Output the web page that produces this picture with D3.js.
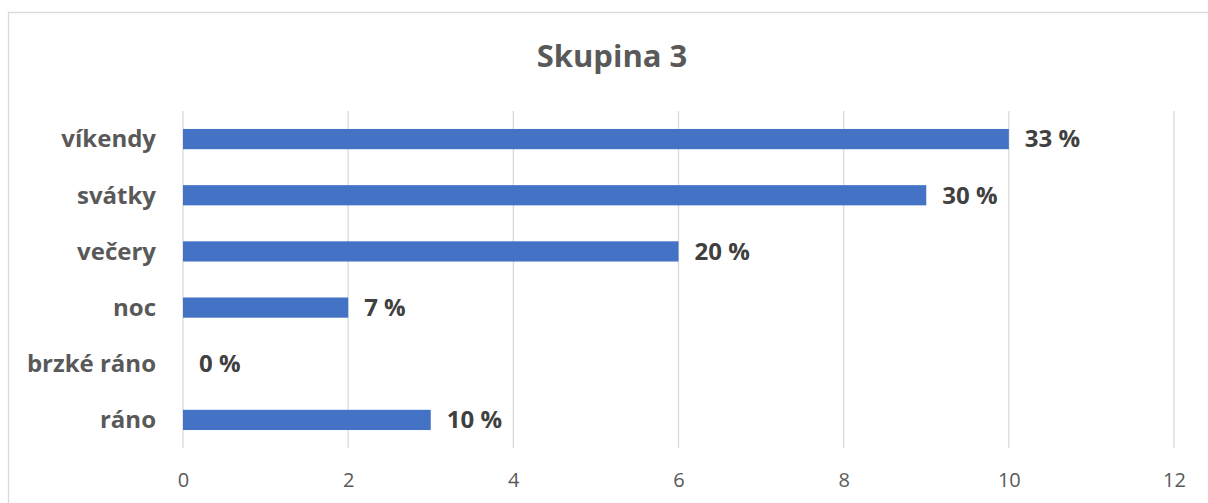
<!DOCTYPE html>
<html>
<head>
<meta charset="utf-8">
<script src="https://cdn.jsdelivr.net/npm/d3@7"></script>
<style>
  html, body { margin: 0; padding: 0; background: #fff; }
  svg { display: block; }
</style>
</head>
<body>
<svg id="chart" width="1208" height="503"></svg>
<script>
const title = "Skupina 3";
const categories = ["víkendy", "svátky", "večery", "noc", "brzké ráno", "ráno"];
const values = [10, 9, 6, 2, 0, 3];
const labels = ["33 %", "30 %", "20 %", "7 %", "0 %", "10 %"];
const xTicks = [0, 2, 4, 6, 8, 10, 12];

const W = 1208, H = 503;
const margin = { left: 183, right: 34, top: 111, bottom: 55 };
const svg = d3.select("#chart");
const font = "'Open Sans', 'Noto Sans', sans-serif";

// chart border
svg.append("rect")
  .attr("x", 8.5).attr("y", 12.5)
  .attr("width", W + 10).attr("height", H + 10)
  .attr("fill", "#fff").attr("stroke", "#d9d9d9").attr("stroke-width", 1.3);

const x = d3.scaleLinear().domain([0, 12]).range([margin.left, W - margin.right]);
const y = d3.scaleBand().domain(categories).range([margin.top, H - margin.bottom]).paddingInner(0.64).paddingOuter(0.32);

// gridlines
svg.append("g")
  .selectAll("line").data(xTicks).join("line")
  .attr("x1", d => x(d)).attr("x2", d => x(d))
  .attr("y1", margin.top).attr("y2", H - margin.bottom)
  .attr("stroke", "#d9d9d9").attr("stroke-width", 1.3);

// x axis labels
const xAxis = d3.axisBottom(x).tickValues(xTicks).tickSize(0).tickPadding(0);
const gx = svg.append("g").attr("transform", `translate(0,${H - margin.bottom})`).call(xAxis);
gx.select(".domain").remove();
gx.selectAll("text")
  .attr("dy", null).attr("y", 39)
  .attr("font-family", font).attr("font-size", 20)
  .attr("fill", "#595959");

// y axis labels
const yAxis = d3.axisLeft(y).tickSize(0).tickPadding(27);
const gy = svg.append("g").attr("transform", `translate(${margin.left},0)`).call(yAxis);
gy.select(".domain").remove();
gy.selectAll("text")
  .attr("font-family", font).attr("font-size", 24).attr("font-weight", "bold")
  .attr("fill", "#595959").attr("dy", "0.35em");

// bars
svg.append("g").selectAll("rect")
  .data(categories).join("rect")
  .attr("x", x(0))
  .attr("y", d => y(d))
  .attr("width", (d, i) => x(values[i]) - x(0))
  .attr("height", y.bandwidth())
  .attr("fill", "#4472c4");

// data labels
svg.append("g").selectAll("text")
  .data(categories).join("text")
  .attr("x", (d, i) => x(values[i]) + 16)
  .attr("y", d => y(d) + y.bandwidth() / 2)
  .attr("dy", "0.35em")
  .attr("font-family", font).attr("font-size", 24).attr("font-weight", "bold")
  .attr("fill", "#404040")
  .text((d, i) => labels[i]);

// title
svg.append("text")
  .attr("x", 612).attr("y", 67)
  .attr("text-anchor", "middle")
  .attr("font-family", font).attr("font-size", 31).attr("font-weight", "bold")
  .attr("fill", "#595959")
  .text(title);
</script>
</body>
</html>
